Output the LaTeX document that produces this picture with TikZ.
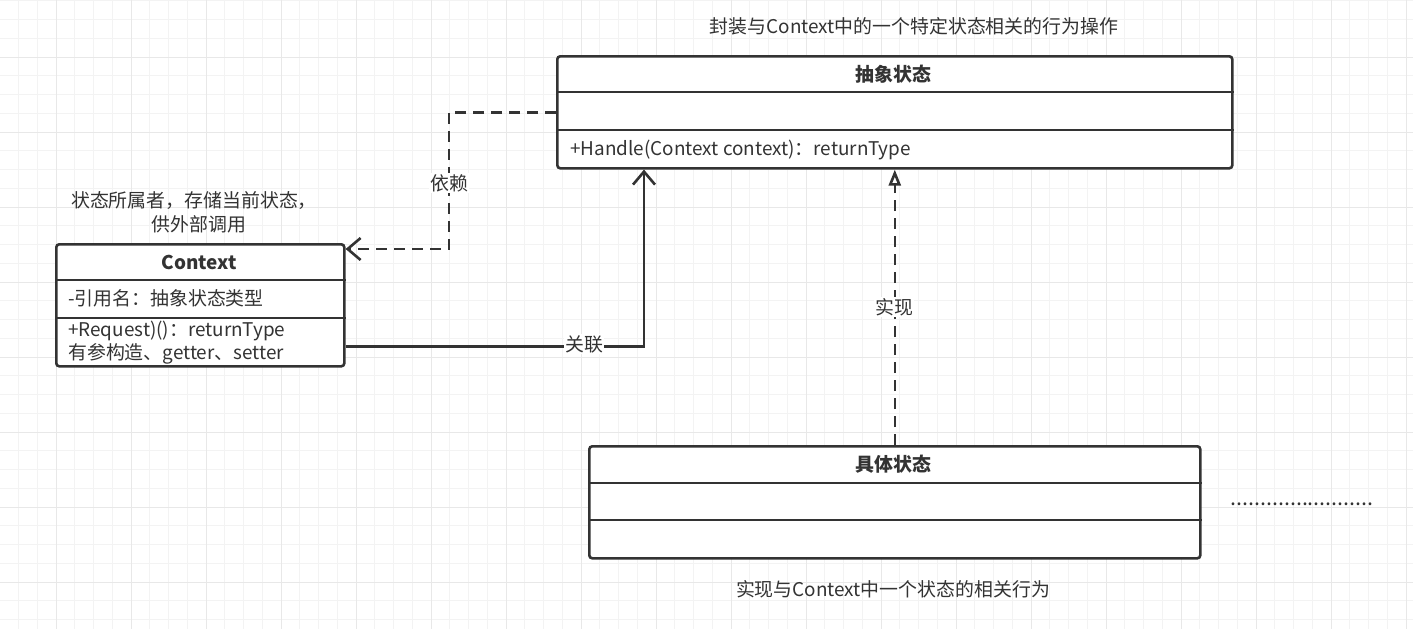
\documentclass[tikz,border=0pt]{standalone}
\usepackage{fontspec}
\setmainfont{Noto Sans CJK SC}
\usetikzlibrary{arrows.meta}
\definecolor{ink}{HTML}{333333}
\definecolor{gminor}{HTML}{F3F3F3}
\definecolor{gmajor}{HTML}{E8E8E8}
\tikzset{
  umlbox/.style={draw=ink, line width=2.6pt, rounded corners=3pt, fill=white, inner sep=0pt, anchor=north west},
  divider/.style={draw=ink, line width=2.6pt},
  txt/.style={text=ink, font=\fontsize{18.9}{23}\selectfont, inner sep=0pt},
  btxt/.style={txt, font=\fontsize{18.9}{23}\selectfont\bfseries},
  conn/.style={draw=ink, line width=2.6pt},
  dashconn/.style={conn, dash pattern=on 11pt off 7pt},
  openbarb/.style={-{Straight Barb[length=13pt,width=22pt,line width=2.6pt]}},
  opentri/.style={-{Triangle[open,length=16pt,width=12pt,line width=2.6pt]}},
  lbl/.style={txt, fill=white, inner sep=1pt}
}
\begin{document}
\begin{tikzpicture}[x=1pt,y=-1pt]
\useasboundingbox (0,0) rectangle (1413,629);
\fill[white] (0,0) rectangle (1413,629);
% grid
\foreach \i in {0,...,75} {\draw[gminor, line width=1pt] ({-0.25+18.75*\i},0) -- ({-0.25+18.75*\i},629);}
\foreach \j in {0,...,33} {\draw[gminor, line width=1pt] (0,{0.75+18.75*\j}) -- (1413,{0.75+18.75*\j});}
\foreach \i in {0,...,18} {\draw[gmajor, line width=1pt] ({56+75*\i},0) -- ({56+75*\i},629);}
\foreach \j in {0,...,8} {\draw[gmajor, line width=1pt] (0,{57+75*\j}) -- (1413,{57+75*\j});}

% abstract state
\node[umlbox, minimum width=675pt, minimum height=112pt] (abs) at (556,55) {};
\draw[divider] ([yshift=-37pt]abs.north west) -- ([yshift=-37pt]abs.north east);
\draw[divider] ([yshift=-75pt]abs.north west) -- ([yshift=-75pt]abs.north east);
\node[btxt] (abst) at (893.5,74) {抽象状态};
\node[txt, anchor=west] (absm) at (570,150) {+Handle(Context context)：returnType};

% context
\node[umlbox, minimum width=288pt, minimum height=122pt] (ctx) at (55,243) {};
\draw[divider] ([yshift=-37pt]ctx.north west) -- ([yshift=-37pt]ctx.north east);
\draw[divider] ([yshift=-75pt]ctx.north west) -- ([yshift=-75pt]ctx.north east);
\node[btxt] (ctxt) at (199,262) {Context};
\node[txt, anchor=west] (ctxa) at (68,298) {-引用名：抽象状态类型};
\node[txt, anchor=west] (ctxm1) at (68,331) {+Request)()：returnType};
\node[txt, anchor=west] (ctxm2) at (68,354) {有参构造、getter、setter};

% concrete state
\node[umlbox, minimum width=611pt, minimum height=112pt] (conc) at (588,445) {};
\draw[divider] ([yshift=-38pt]conc.north west) -- ([yshift=-38pt]conc.north east);
\draw[divider] ([yshift=-75pt]conc.north west) -- ([yshift=-75pt]conc.north east);
\node[btxt] (conct) at (893.5,464) {具体状态};

% notes
\node[txt] (note1) at (914,26) {封装与Context中的一个特定状态相关的行为操作};
\node[txt] (note2a) at (194,201) {状态所属者，存储当前状态，};
\node[txt] (note2b) at (199,224) {供外部调用};
\node[txt] (note3) at (893,589) {实现与Context中一个状态的相关行为};
\node[txt, anchor=base, font=\fontsize{21.5}{23}\selectfont] (dots) at (1302,505) {........................};

% connectors
\draw[dashconn, openbarb] (abs.west) -- ++(-107,0) |- ([yshift=-6pt]ctx.north east);
\node[lbl] (ldep) at (449,183) {依赖};
\draw[conn, openbarb] ([yshift=21pt]ctx.south east) -| ([xshift=88pt]abs.south west);
\node[lbl] (lassoc) at (584,344) {关联};
\draw[dashconn, opentri] (conc.north) -- (conc.north |- abs.south);
\node[lbl] (lreal) at (894,307) {实现};
\end{tikzpicture}
\end{document}
